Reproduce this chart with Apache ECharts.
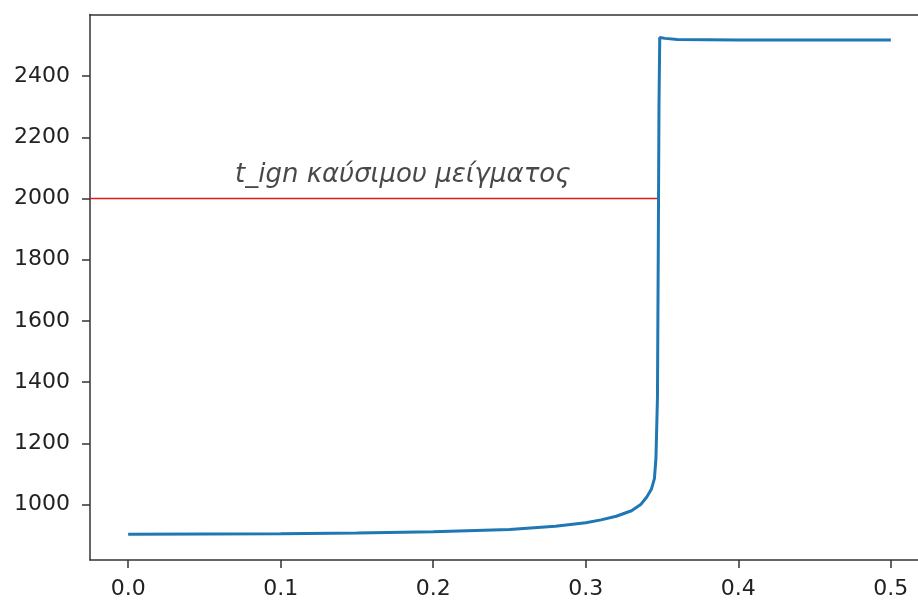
<!DOCTYPE html>
<html>
<head>
<meta charset="utf-8">
<script src="https://cdn.jsdelivr.net/npm/echarts@6/dist/echarts.min.js"></script>
<style>html,body{margin:0;padding:0;background:#fff}#c{width:918px;height:602px}</style>
</head>
<body>
<div id="c"></div>
<script>
const timeValues = [0, 0.05, 0.1, 0.15, 0.2, 0.25, 0.28, 0.3, 0.31, 0.32, 0.33, 0.336, 0.34, 0.343, 0.345, 0.346, 0.347, 0.3475, 0.348, 0.3485, 0.352, 0.36, 0.4, 0.45, 0.5];
const tempValues = [903, 904, 905, 907, 911, 919, 929, 941, 950, 962, 980, 1000, 1025, 1050, 1085, 1150, 1350, 1800, 2300, 2526, 2523, 2519, 2518, 2518, 2518];
const ignitionTemp = 2000;
const ignitionLineX = [-0.025, 0.347];
const annotationText = 't_ign καύσιμου μείγματος';
const annotationPos = [0.18, 2075];
const xTicks = [0, 0.1, 0.2, 0.3, 0.4, 0.5];
const yTicks = [1000, 1200, 1400, 1600, 1800, 2000, 2200, 2400];

const curve = timeValues.map((t, i) => [t, tempValues[i]]);
const redLine = ignitionLineX.map(x => [x, ignitionTemp]);

const chart = echarts.init(document.getElementById('c'), null, {renderer: 'canvas'});
const axisColor = '#333';
const labelStyle = {color: '#222', fontFamily: 'DejaVu Sans', fontSize: 22};
chart.setOption({
  animation: false,
  backgroundColor: '#fff',
  grid: {left: 90, top: 14.5, bottom: 42, right: 0, show: false},
  xAxis: [{
    type: 'value', min: -0.025, max: 0.5178,
    splitLine: {show: false},
    axisLine: {show: true, onZero: false, lineStyle: {color: axisColor, width: 1.5}},
    axisTick: {show: true, length: 8, lineStyle: {color: axisColor, width: 1.5}, customValues: xTicks},
    axisLabel: Object.assign({margin: 18, customValues: xTicks, formatter: v => v.toFixed(1)}, labelStyle)
  }, {
    type: 'value', position: 'top', min: -0.025, max: 0.5178,
    splitLine: {show: false},
    axisLine: {show: true, onZero: false, lineStyle: {color: axisColor, width: 1.5}},
    axisTick: {show: false}, axisLabel: {show: false}
  }],
  yAxis: {
    type: 'value', min: 819, max: 2601,
    splitLine: {show: false},
    axisLine: {show: true, onZero: false, lineStyle: {color: axisColor, width: 1.5}},
    axisTick: {show: true, length: 8, lineStyle: {color: axisColor, width: 1.5}, customValues: yTicks},
    axisLabel: Object.assign({margin: 20, customValues: yTicks, formatter: v => String(v)}, labelStyle)
  },
  series: [
    {type: 'line', data: redLine, showSymbol: false, lineStyle: {color: '#e31a1c', width: 1.3}, z: 2},
    {type: 'line', data: curve, showSymbol: false, lineStyle: {color: '#1f77b4', width: 3}, z: 3},
    {type: 'scatter', data: [annotationPos], symbolSize: 0,
      label: {show: true, position: 'inside', formatter: annotationText, fontStyle: 'italic', fontFamily: 'DejaVu Sans', fontSize: 26, color: '#1a1a1a'}}
  ]
});
</script>
</body>
</html>
